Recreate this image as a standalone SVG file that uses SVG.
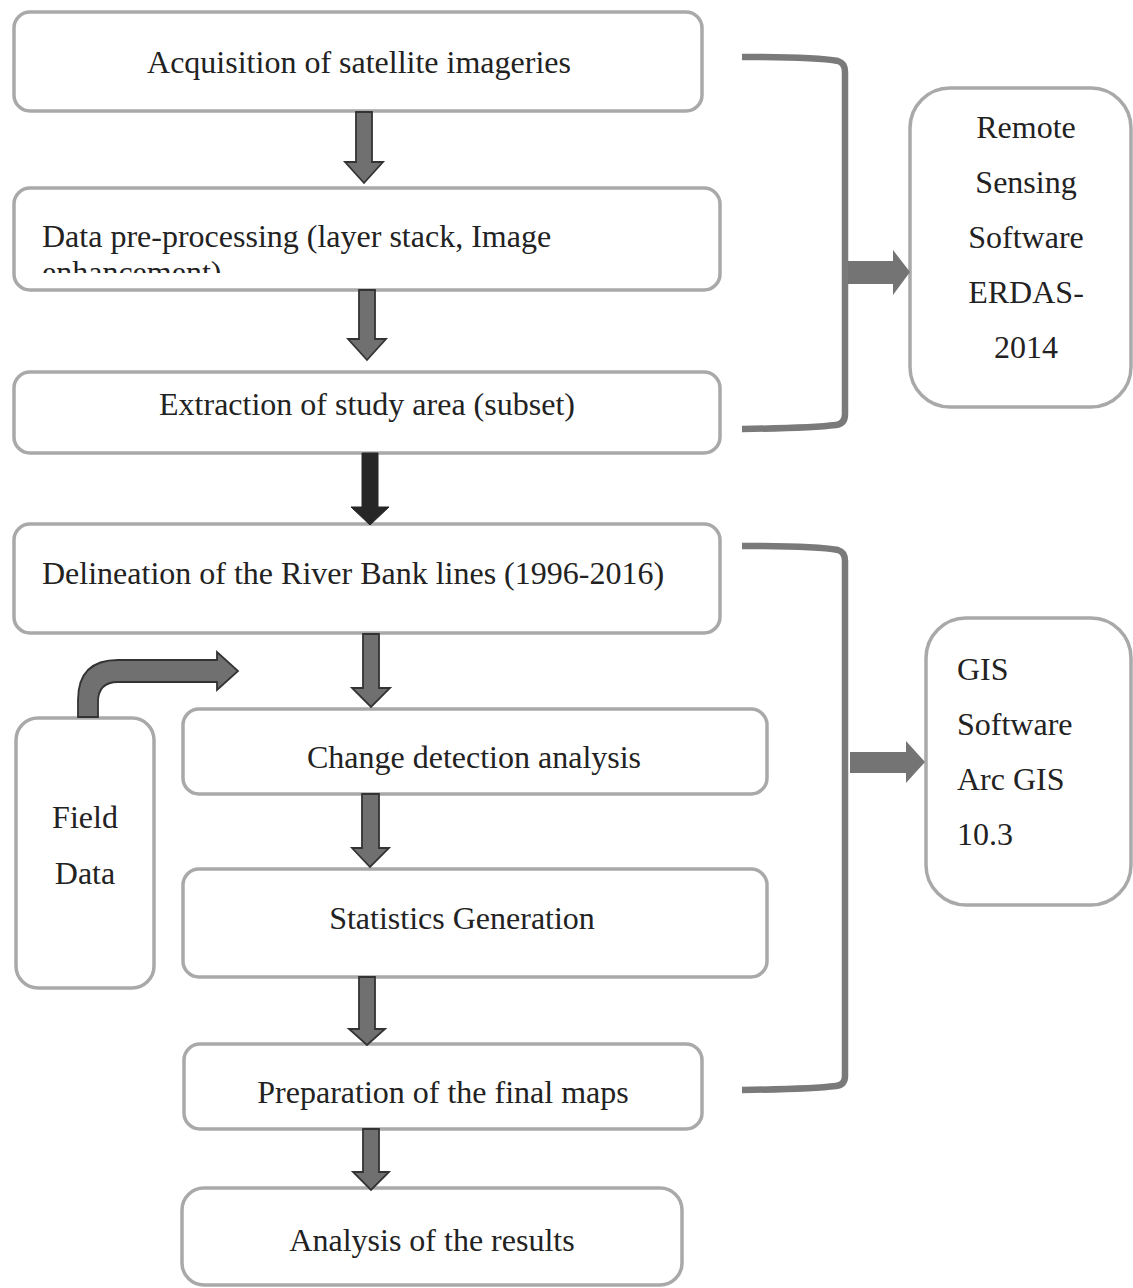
<svg xmlns="http://www.w3.org/2000/svg" width="1133" height="1288" viewBox="0 0 1133 1288">
<style>
.box{fill:#fff;stroke:#a9a9a9;stroke-width:3.5}
.t{font-family:"Liberation Serif","Times New Roman",serif;font-size:32px;fill:#222}
.m{text-anchor:middle}
.arr{fill:#707070;stroke:#333;stroke-width:1.8;stroke-linejoin:miter}
.arrd{fill:#262626;stroke:#262626;stroke-width:1}
.br{fill:none;stroke:#7a7a7a;stroke-width:6.5;stroke-linejoin:round}
.barr{fill:#747474}
</style>
<defs>
<clipPath id="clip2"><rect x="14" y="188" width="706" height="85"/></clipPath>
</defs>
<rect width="1133" height="1288" fill="#fff"/>

<g id="n1"><rect class="box" x="14" y="12" width="688" height="99" rx="16"/>
<text class="t m" x="359" y="73">Acquisition of satellite imageries</text></g>

<g id="n2"><rect class="box" x="14" y="188" width="706" height="102" rx="16"/>
<g clip-path="url(#clip2)"><text class="t" x="42" y="247">Data pre-processing (layer stack, Image</text>
<text class="t" x="42" y="283">enhancement)</text></g></g>

<g id="n3"><rect class="box" x="14" y="372" width="706" height="81" rx="16"/>
<text class="t m" x="367" y="415">Extraction of study area (subset)</text></g>

<g id="n4"><rect class="box" x="14" y="524" width="706" height="109" rx="16"/>
<text class="t" x="42" y="584">Delineation of the River Bank lines (1996-2016)</text></g>

<g id="n5"><rect class="box" x="183" y="709" width="584" height="85" rx="16"/>
<text class="t m" x="474" y="768">Change detection analysis</text></g>

<g id="n6"><rect class="box" x="183" y="869" width="584" height="108" rx="16"/>
<text class="t m" x="462" y="929">Statistics Generation</text></g>

<g id="n7"><rect class="box" x="184" y="1044" width="518" height="85" rx="16"/>
<text class="t m" x="443" y="1103">Preparation of the final maps</text></g>

<g id="n8"><rect class="box" x="182" y="1188" width="500" height="97" rx="22"/>
<text class="t m" x="432" y="1251">Analysis of the results</text></g>

<g id="field"><rect class="box" x="16" y="718" width="138" height="270" rx="22"/>
<text class="t m" x="85" y="828">Field</text>
<text class="t m" x="85" y="884">Data</text></g>

<g id="rs"><rect class="box" x="910" y="88" width="221" height="319" rx="40"/>
<text class="t m" x="1026" y="138">Remote</text>
<text class="t m" x="1026" y="193">Sensing</text>
<text class="t m" x="1026" y="248">Software</text>
<text class="t m" x="1026" y="303">ERDAS-</text>
<text class="t m" x="1026" y="358">2014</text></g>

<g id="gis"><rect class="box" x="926" y="618" width="205" height="287" rx="40"/>
<text class="t" x="957" y="680">GIS</text>
<text class="t" x="957" y="735">Software</text>
<text class="t" x="957" y="790">Arc GIS</text>
<text class="t" x="957" y="845">10.3</text></g>

<g id="connectors">
<path class="arr" d="M356,112 L372,112 L372,162 L383,162 L364,183 L345,162 L356,162 Z"/>
<path class="arr" d="M359,290 L375,290 L375,339 L386,339 L367,360 L348,339 L359,339 Z"/>
<path class="arrd" d="M362,453 L378,453 L378,507 L389,507 L370,525 L351,507 L362,507 Z"/>
<path class="arr" d="M363,634 L379,634 L379,688 L390,688 L371,707 L352,688 L363,688 Z"/>
<path class="arr" d="M362,794 L379,794 L379,848 L389,848 L370,867 L352,848 L362,848 Z"/>
<path class="arr" d="M359,977 L375,977 L375,1029 L385,1029 L367,1045 L349,1029 L359,1029 Z"/>
<path class="arr" d="M363,1129 L379,1129 L379,1172 L389,1172 L371,1190 L353,1172 L363,1172 Z"/>
<path class="arr" d="M78,717 L78,700 Q78,660 118,660 L217,660 L217,652 L238,671 L217,690 L217,682 L118,682 Q98,682 98,702 L98,717 Z"/>
<path class="br" d="M742,57 Q815,57 838,61 Q845,63 845,72 L845,414 Q845,424 836,425 Q812,428 742,429"/>
<path class="barr" d="M848,261 L893,261 L893,250 L910,272 L893,295 L893,284 L848,284 Z"/>
<path class="br" d="M742,546 Q815,546 838,550 Q845,552 845,561 L845,1076 Q845,1085 836,1086 Q812,1089 742,1090"/>
<path class="barr" d="M850,752 L906,752 L906,741 L925,762 L906,783 L906,773 L850,773 Z"/>
</g>
</svg>
